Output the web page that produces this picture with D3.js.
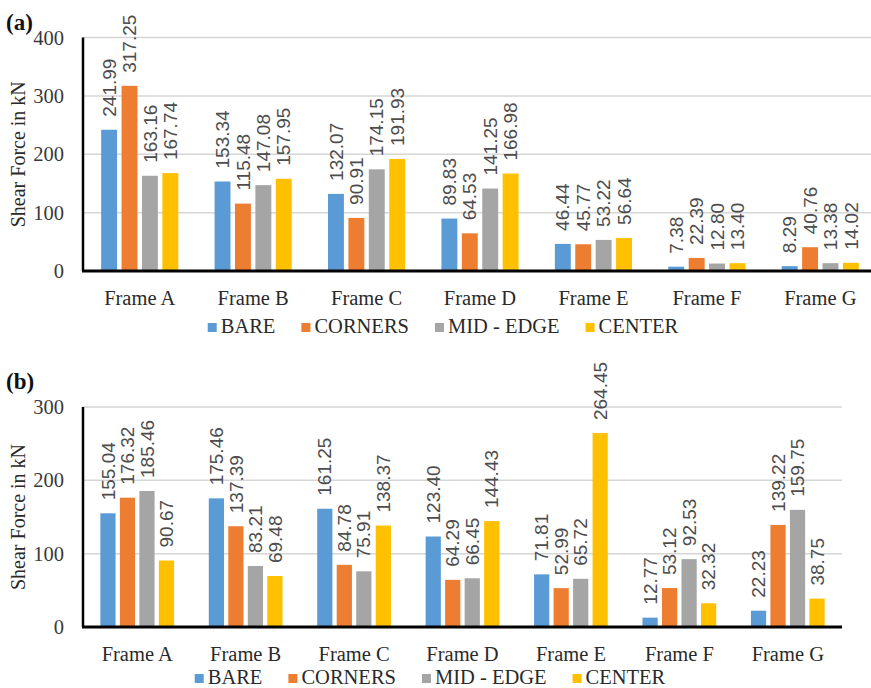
<!DOCTYPE html>
<html>
<head>
<meta charset="utf-8">
<script src="https://cdn.jsdelivr.net/npm/d3@7/dist/d3.min.js"></script>
<style>
  html, body { margin: 0; padding: 0; background: #fff; }
  svg { display: block; }
</style>
</head>
<body>
<svg id="chart" width="871" height="688"></svg>
<script>
// Frames and load cases
const frames = ["Frame A", "Frame B", "Frame C", "Frame D", "Frame E", "Frame F", "Frame G"];
const cases = ["BARE", "CORNERS", "MID - EDGE", "CENTER"];
const caseColors = ["#5B9BD5", "#ED7D31", "#A5A5A5", "#FFC000"];

// Panel (a) shear force, kN
const aBare    = [241.99, 153.34, 132.07, 89.83, 46.44, 7.38, 8.29];
const aCorners = [317.25, 115.48, 90.91, 64.53, 45.77, 22.39, 40.76];
const aMidEdge = [163.16, 147.08, 174.15, 141.25, 53.22, 12.80, 13.38];
const aCenter  = [167.74, 157.95, 191.93, 166.98, 56.64, 13.40, 14.02];
const aTicks   = [0, 100, 200, 300, 400];

// Panel (b) shear force, kN
const bBare    = [155.04, 175.46, 161.25, 123.40, 71.81, 12.77, 22.23];
const bCorners = [176.32, 137.39, 84.78, 64.29, 52.99, 53.12, 139.22];
const bMidEdge = [185.46, 83.21, 75.91, 66.45, 65.72, 92.53, 159.75];
const bCenter  = [90.67, 69.48, 138.37, 144.43, 264.45, 32.32, 38.75];
const bTicks   = [0, 100, 200, 300];

const yTitle = "Shear Force in kN";
const serif = "'Liberation Serif', 'Times New Roman', serif";
const sans = "'Liberation Sans', Arial, sans-serif";

const svg = d3.select("#chart");

function drawPanel(opt) {
  const g = svg.append("g");
  const series = opt.series;
  const yMax = opt.ticks[opt.ticks.length - 1];

  const x0 = d3.scaleBand().domain(frames).range([opt.left, opt.right])
    .paddingInner(0.32).paddingOuter(0.16);
  const x1 = d3.scaleBand().domain(cases).range([0, x0.bandwidth()])
    .paddingInner(0.22).paddingOuter(0);
  const y = d3.scaleLinear().domain([0, yMax]).range([opt.bottom, opt.top]);

  // horizontal gridlines
  g.append("g").selectAll("line")
    .data(opt.ticks.filter(t => t > 0))
    .join("line")
    .attr("x1", opt.left).attr("x2", opt.gridRight)
    .attr("y1", d => y(d)).attr("y2", d => y(d))
    .attr("stroke", "#d6d6d6").attr("stroke-width", 1.5);

  // y tick labels
  const yAxis = d3.axisLeft(y).tickValues(opt.ticks).tickSize(0).tickPadding(0)
    .tickFormat(d3.format("d"));
  const ya = g.append("g").attr("transform", `translate(${opt.left - 19},0)`).call(yAxis);
  ya.select(".domain").remove();
  ya.selectAll("text")
    .attr("font-family", serif).attr("font-size", 20.5).attr("fill", "#3a3a3a");

  // bars
  const groups = g.append("g").selectAll("g")
    .data(frames)
    .join("g")
    .attr("transform", f => `translate(${x0(f)},0)`);

  groups.selectAll("rect")
    .data((f, i) => cases.map((c, k) => ({ c, k, v: series[k][i] })))
    .join("rect")
    .attr("x", d => x1(d.c))
    .attr("width", x1.bandwidth())
    .attr("y", d => y(d.v))
    .attr("height", d => y(0) - y(d.v))
    .attr("fill", d => caseColors[d.k]);

  // value labels, rotated above each bar
  groups.selectAll("text")
    .data((f, i) => cases.map((c, k) => ({ c, k, v: series[k][i] })))
    .join("text")
    .attr("transform", d => `translate(${x1(d.c) + x1.bandwidth() / 2},${y(d.v) - 13}) rotate(-90)`)
    .attr("dy", "0.35em")
    .attr("text-anchor", "start")
    .attr("font-family", sans).attr("font-size", 19).attr("fill", "#4d4d4d")
    .text(d => d.v.toFixed(2));

  // axis lines
  g.append("line")
    .attr("x1", opt.left).attr("x2", opt.left)
    .attr("y1", opt.top).attr("y2", opt.bottom)
    .attr("stroke", "#000").attr("stroke-width", 2.5);
  g.append("line")
    .attr("x1", opt.left - 1).attr("x2", opt.gridRight)
    .attr("y1", opt.bottom).attr("y2", opt.bottom)
    .attr("stroke", "#000").attr("stroke-width", 3);

  // category labels
  const xAxis = d3.axisBottom(x0).tickSize(0).tickPadding(0);
  const xa = g.append("g").attr("transform", `translate(0,${opt.catBaseline})`).call(xAxis);
  xa.select(".domain").remove();
  xa.selectAll("text")
    .attr("dy", 0).attr("y", 0)
    .attr("font-family", serif).attr("font-size", 20.5).attr("fill", "#2a2a2a");

  // y title
  g.append("text")
    .attr("transform", `translate(25,${(opt.top + opt.bottom) / 2}) rotate(-90)`)
    .attr("text-anchor", "middle")
    .attr("font-family", serif).attr("font-size", 20).attr("fill", "#2a2a2a")
    .text(yTitle);

  // panel tag
  g.append("text")
    .attr("x", 6).attr("y", opt.tagBaseline)
    .attr("font-family", serif).attr("font-size", 23).attr("font-weight", "bold")
    .attr("fill", "#111")
    .text(opt.tag);

  // legend
  const leg = g.append("g");
  const items = leg.selectAll("g").data(cases).join("g");
  items.append("rect")
    .attr("width", 9).attr("height", 9)
    .attr("y", opt.legBaseline - 10)
    .attr("fill", (d, k) => caseColors[k]);
  items.append("text")
    .attr("x", 13).attr("y", opt.legBaseline)
    .attr("font-family", serif).attr("font-size", 20.5).attr("fill", "#2a2a2a")
    .text(d => d);
  let cursor = 0;
  const offsets = [];
  items.each(function () {
    offsets.push(cursor);
    cursor += 13 + this.querySelector("text").getComputedTextLength() + 26;
  });
  const total = cursor - 26;
  const start = opt.legCenter - total / 2;
  items.attr("transform", (d, k) => `translate(${start + offsets[k]},0)`);
}

drawPanel({
  tag: "(a)", tagBaseline: 30,
  series: [aBare, aCorners, aMidEdge, aCenter], ticks: aTicks,
  left: 83, right: 877, gridRight: 871, top: 37.5, bottom: 271,
  catBaseline: 305, legBaseline: 333, legCenter: 443
});

drawPanel({
  tag: "(b)", tagBaseline: 389,
  series: [bBare, bCorners, bMidEdge, bCenter], ticks: bTicks,
  left: 83, right: 842, gridRight: 842, top: 407, bottom: 627,
  catBaseline: 661, legBaseline: 684, legCenter: 430
});
</script>
</body>
</html>
